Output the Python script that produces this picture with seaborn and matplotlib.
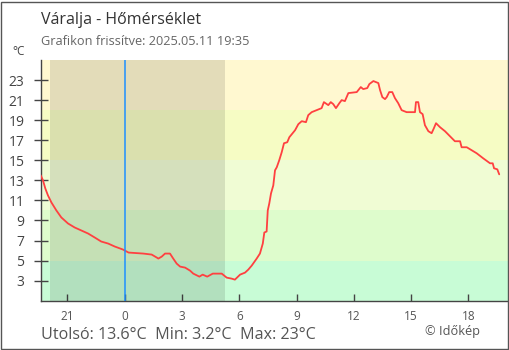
import matplotlib
matplotlib.use("Agg")
import matplotlib.pyplot as plt
import seaborn as sns
import pandas as pd
from matplotlib.patches import Rectangle

# ---- data (hours relative to midnight, temperature in °C) ----
hours = [-4.40, -4.28, -4.16, -4.02, -3.84, -3.58, -3.32, -2.97, -2.62, -2.27,
         -1.92, -1.57, -1.23, -0.87, -0.52, -0.09, 0.20, 0.97, 1.41, 1.68,
         1.76, 1.94, 2.11, 2.37, 2.54, 2.72, 2.90, 3.16, 3.42, 3.59,
         3.91, 4.08, 4.32, 4.61, 4.90, 5.08, 5.34, 5.60, 5.77, 6.04,
         6.30, 6.47, 6.65, 6.91, 7.08, 7.23, 7.31, 7.43, 7.49, 7.57,
         7.66, 7.78, 7.87, 7.96, 8.09, 8.22, 8.34, 8.51, 8.62, 8.92,
         9.09, 9.27, 9.49, 9.61, 9.79, 10.05, 10.31, 10.43, 10.66, 10.79,
         10.92, 11.06, 11.24, 11.36, 11.53, 11.71, 12.15, 12.36, 12.49, 12.70,
         12.81, 13.02, 13.28, 13.37, 13.49, 13.63, 13.72, 13.85, 14.01, 14.15,
         14.32, 14.50, 14.76, 15.03, 15.20, 15.25, 15.37, 15.46, 15.60, 15.72,
         15.90, 16.07, 16.19, 16.30, 16.51, 16.77, 17.03, 17.29, 17.56, 17.64,
         17.91, 18.17, 18.43, 18.77, 19.13, 19.27, 19.34, 19.51, 19.61]
temps = [13.5, 13.0, 12.2, 11.5, 10.8, 10.0, 9.3, 8.7, 8.3, 8.0,
         7.7, 7.3, 6.9, 6.7, 6.4, 6.1, 5.8, 5.7, 5.6, 5.3,
         5.2, 5.4, 5.7, 5.7, 5.2, 4.7, 4.4, 4.3, 4.0, 3.7,
         3.4, 3.6, 3.4, 3.7, 3.7, 3.7, 3.3, 3.2, 3.1, 3.6,
         3.8, 4.1, 4.5, 5.2, 5.7, 6.7, 7.8, 7.9, 10.0, 10.7,
         11.7, 12.5, 14.0, 14.3, 15.0, 15.8, 16.7, 16.8, 17.3, 18.0,
         18.6, 18.9, 18.8, 19.5, 19.8, 20.0, 20.2, 20.8, 20.5, 20.8,
         20.6, 20.2, 20.7, 21.0, 20.9, 21.7, 21.8, 22.3, 22.1, 22.2,
         22.6, 22.9, 22.7, 22.0, 21.3, 21.1, 21.3, 21.8, 21.8, 21.2,
         20.7, 20.0, 19.8, 19.8, 19.8, 20.8, 20.8, 19.8, 19.6, 18.5,
         17.9, 17.7, 18.2, 18.7, 18.3, 17.9, 17.4, 16.9, 16.9, 16.3,
         16.3, 16.0, 15.7, 15.2, 14.7, 14.7, 14.2, 14.1, 13.6]

x_ticks = [-3, 0, 3, 6, 9, 12, 15, 18]
x_tick_labels = ["21", "0", "3", "6", "9", "12", "15", "18"]
y_ticks = [3, 5, 7, 9, 11, 13, 15, 17, 19, 21, 23]

band_edges = [1, 5, 10, 15, 20, 25]
band_colors = ["#c8fcd6", "#defccc", "#f0fcd4", "#f6fcc4", "#fff8d0"]
night_span = (-3.91, 5.25)

title = "Váralja - Hőmérséklet"
subtitle = "Grafikon frissítve: 2025.05.11 19:35"
footer = "Utolsó: 13.6°C  Min: 3.2°C  Max: 23°C"
credit = "© Időkép"

# ---- drawing ----
sns.set_theme(style="white")
plt.rcParams["font.family"] = ["Open Sans", "DejaVu Sans"]

fig = plt.figure(figsize=(5.1, 3.5), dpi=100)
W, H = 510, 350
ax = fig.add_axes([40.7 / W, 1 - 300.7 / H, (508 - 40.7) / W, (300.7 - 60) / H])

xmin, xmax = -4.40, 20.07
ymin, ymax = 1.0, 25.0

for lo, hi, c in zip(band_edges[:-1], band_edges[1:], band_colors):
    ax.axhspan(lo, hi, color=c, lw=0, zorder=0)
ax.axvspan(night_span[0], night_span[1], color="black", alpha=0.11, lw=0, zorder=1)
ax.axvline(0, color="#1e90ff", lw=1.1, zorder=4)

df = pd.DataFrame({"h": hours, "t": temps})
sns.lineplot(data=df, x="h", y="t", ax=ax, color="#ff4040", lw=1.3, zorder=3)

ax.set_xlim(xmin, xmax)
ax.set_ylim(ymin, ymax)
ax.set_xlabel("")
ax.set_ylabel("")
ax.set_xticks(x_ticks)
ax.set_xticklabels(x_tick_labels)
ax.set_yticks(y_ticks)
ax.set_yticklabels([str(v) for v in y_ticks])

for s in ["top", "right"]:
    ax.spines[s].set_visible(False)
for s in ["left", "bottom"]:
    ax.spines[s].set_color("#444444")
    ax.spines[s].set_linewidth(1.0)

ax.tick_params(axis="y", direction="inout", length=9.5, width=1, color="#444444",
               labelsize=10, labelcolor="#444444", pad=7, left=True)
ax.tick_params(axis="x", direction="in", length=5, width=1, color="#444444",
               labelsize=8.5, labelcolor="#555555", pad=7, bottom=True)
ax.grid(False)

fig.text(41 / W, 1 - 24 / H, title, fontsize=11.5, color="#333333", ha="left", va="baseline")
fig.text(41 / W, 1 - 45 / H, subtitle, fontsize=9.2, color="#666666", ha="left", va="baseline")
fig.text(12 / W, 1 - 55 / H, "°C", fontsize=8.5, color="#444444", ha="left", va="baseline")
fig.text(40.7 / W, 1 - 339.3 / H, footer, fontsize=11.6, color="#555555", ha="left", va="baseline")
fig.text(425 / W, 1 - 335 / H, credit, fontsize=9.2, color="#555555", ha="left", va="baseline")

fig.patches.append(Rectangle((0.5 / W, 1.5 / H), 508 / W, 347 / H, transform=fig.transFigure,
                             fill=False, edgecolor="#555555", lw=1.0))

fig.savefig("out.png", dpi=100)
